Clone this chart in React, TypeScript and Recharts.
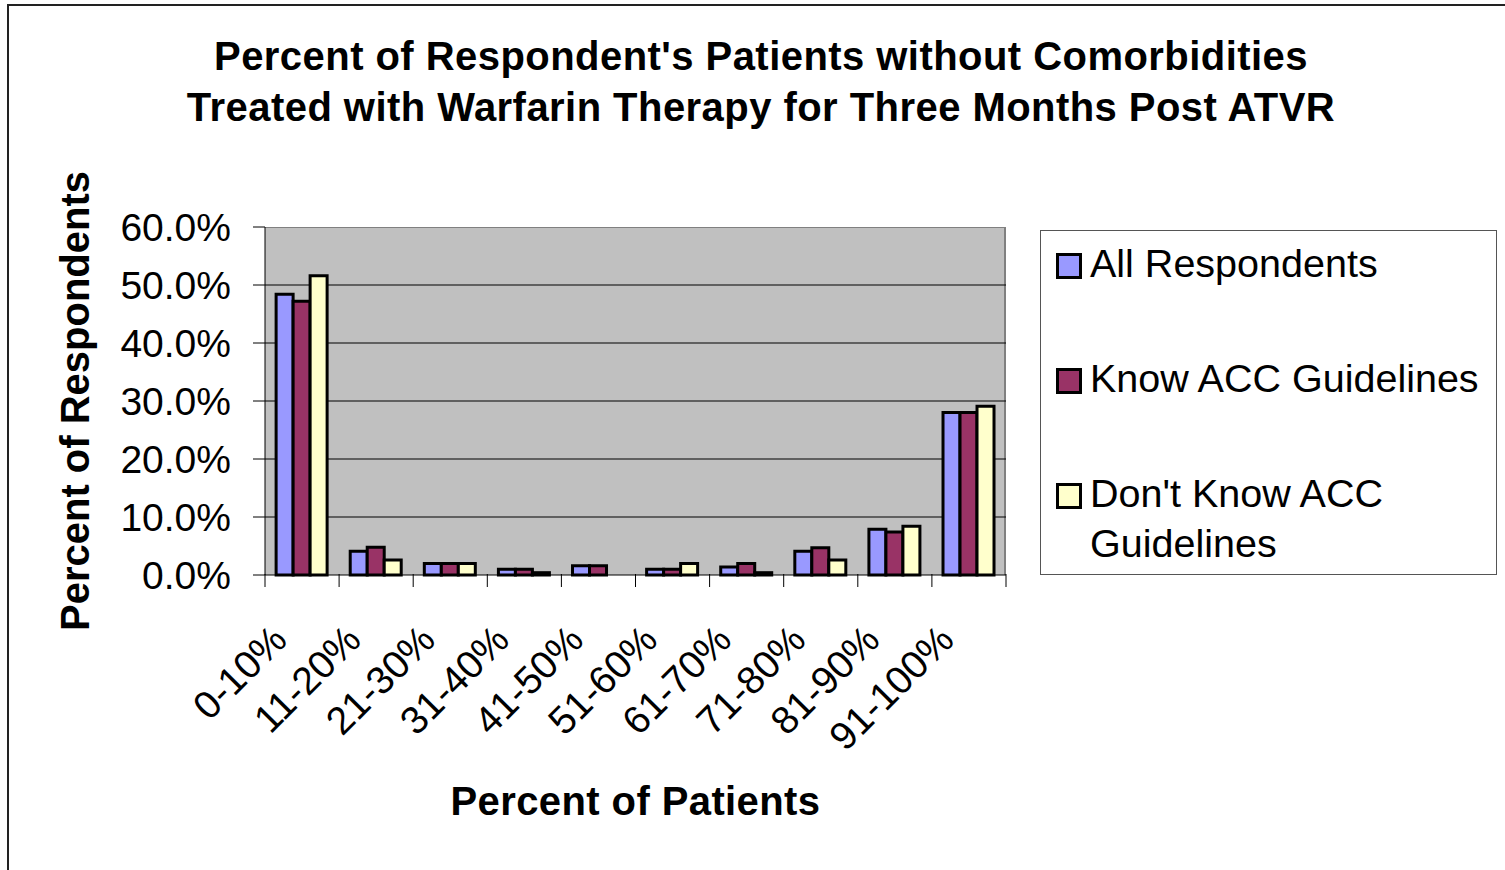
import { BarChart, Bar, XAxis, YAxis, CartesianGrid, Legend, Label } from "recharts"

const categories = ["0-10%", "11-20%", "21-30%", "31-40%", "41-50%", "51-60%", "61-70%", "71-80%", "81-90%", "91-100%"]
const allRespondents = [48.4, 4.1, 2.0, 1.0, 1.6, 1.0, 1.4, 4.1, 7.9, 28.0]
const knowGuidelines = [47.2, 4.8, 2.0, 1.0, 1.6, 1.0, 2.0, 4.7, 7.4, 28.0]
const dontKnowGuidelines = [51.6, 2.6, 2.0, 0.4, 0, 2.0, 0.4, 2.6, 8.4, 29.1]

const seriesNames = ["All Respondents", "Know ACC Guidelines", "Don't Know ACC Guidelines"]
const seriesColors = ["#9999ff", "#993366", "#ffffcc"]

const yTicks = [0, 10, 20, 30, 40, 50, 60]
const gridValues = [10, 20, 30, 40, 50]

const titleLines = [
  "Percent of Respondent's Patients without Comorbidities",
  "Treated with Warfarin Therapy for Three Months Post ATVR",
]

const FONT = "'Liberation Sans', Arial, sans-serif"

const data = categories.map((name, i) => ({
  name,
  all: allRespondents[i],
  know: knowGuidelines[i],
  dontKnow: dontKnowGuidelines[i],
}))

// Excel style: tick marks between categories, rotated label ending near the category centre
function CategoryTick({ x, y, payload, index }: any) {
  const half = payload?.offset ?? 0
  const tx = x - 13
  const ty = 642
  return (
    <g>
      <line x1={x - half} y1={y - 1} x2={x - half} y2={y + 12} stroke="#000" />
      {index === categories.length - 1 && (
        <line x1={x + half} y1={y - 1} x2={x + half} y2={y + 12} stroke="#000" />
      )}
      <text
        x={tx}
        y={ty}
        transform={`rotate(-45, ${tx}, ${ty})`}
        textAnchor="end"
        fontSize={39}
        fontFamily={FONT}
        fill="#000"
      >
        {payload.value}
      </text>
    </g>
  )
}

function LegendBox({ payload }: any) {
  const tops = [7, 122, 237]
  const items = [...(payload || [])].sort(
    (a: any, b: any) => seriesNames.indexOf(a.value) - seriesNames.indexOf(b.value)
  )
  return (
    <div
      style={{
        position: "relative",
        width: 457,
        height: 345,
        boxSizing: "border-box",
        border: "1px solid #555",
        background: "#fff",
        fontFamily: FONT,
        fontSize: 39.5,
        lineHeight: "50px",
        color: "#000",
      }}
    >
      {items.map((entry: any, i: number) => (
        <div key={entry.value} style={{ position: "absolute", left: 0, top: tops[i], width: 455 }}>
          <div
            style={{
              position: "absolute",
              left: 15,
              top: 15,
              width: 26,
              height: 26,
              boxSizing: "border-box",
              border: "3px solid #000",
              background: entry.color,
            }}
          />
          <div style={{ position: "absolute", left: 49, top: 0, width: 405, whiteSpace: "normal" }}>
            {entry.value}
          </div>
        </div>
      ))}
    </div>
  )
}

export default function App() {
  return (
    <div style={{ fontFamily: FONT }}>
      <div
        style={{
          position: "absolute",
          left: 7,
          top: 4,
          width: 1500,
          height: 870,
          borderLeft: "2px solid #222",
          borderTop: "2px solid #222",
        }}
      />
      <div
        style={{
          position: "absolute",
          left: 0,
          top: 31,
          width: 1522,
          textAlign: "center",
          fontWeight: "bold",
          fontSize: 40,
          lineHeight: "51px",
          letterSpacing: 0.45,
          color: "#000",
        }}
      >
        {titleLines.map((t) => (
          <div key={t}>{t}</div>
        ))}
      </div>
      <div
        style={{
          position: "absolute",
          left: 265,
          top: 227,
          width: 741,
          height: 348,
          boxSizing: "border-box",
          background: "#c0c0c0",
          borderTop: "1px solid #808080",
          borderRight: "2px solid #808080",
        }}
      />
      <div style={{ position: "absolute", left: 0, top: 0 }}>
        <BarChart
          width={1505}
          height={870}
          data={data}
          margin={{ top: 227, right: 499, bottom: 294, left: 55 }}
          barCategoryGap="15%"
          barGap={0}
        >
          <CartesianGrid vertical={false} stroke="#000" horizontalValues={gridValues} fill="none" />
          <XAxis
            dataKey="name"
            height={1}
            tickLine={false}
            tickSize={0}
            tickMargin={0}
            interval={0}
            axisLine={{ stroke: "#000" }}
            tick={<CategoryTick />}
          >
            <Label
              content={({ viewBox }: any) => (
                <text
                  x={viewBox.x + viewBox.width / 2}
                  y={815}
                  textAnchor="middle"
                  fontSize={40}
                  fontWeight="bold"
                  fontFamily={FONT}
                  letterSpacing={0.4}
                  fill="#000"
                >
                  Percent of Patients
                </text>
              )}
            />
          </XAxis>
          <YAxis
            width={210}
            domain={[0, 60]}
            ticks={yTicks}
            interval={0}
            tickSize={12}
            tickMargin={22}
            axisLine={{ stroke: "#000" }}
            tickLine={{ stroke: "#000" }}
            tickFormatter={(v: number) => `${v.toFixed(1)}%`}
            tick={{ fontSize: 39, fill: "#000", fontFamily: FONT }}
          >
            <Label
              content={({ viewBox }: any) => {
                const cx = viewBox.x + 20
                const cy = viewBox.y + viewBox.height / 2
                return (
                  <text
                    x={cx}
                    y={cy}
                    transform={`rotate(-90, ${cx}, ${cy})`}
                    textAnchor="middle"
                    dominantBaseline="central"
                    fontSize={40}
                    fontWeight="bold"
                    fontFamily={FONT}
                    fill="#000"
                  >
                    Percent of Respondents
                  </text>
                )
              }}
            />
          </YAxis>
          <Legend
            layout="vertical"
            align="center"
            verticalAlign="middle"
            itemSorter={null}
            wrapperStyle={{ position: "absolute", left: 1040, top: 230, width: 457, height: 345 }}
            content={<LegendBox />}
          />
          <Bar dataKey="all" name={seriesNames[0]} fill={seriesColors[0]} stroke="#000" strokeWidth={3} isAnimationActive={false} />
          <Bar dataKey="know" name={seriesNames[1]} fill={seriesColors[1]} stroke="#000" strokeWidth={3} isAnimationActive={false} />
          <Bar dataKey="dontKnow" name={seriesNames[2]} fill={seriesColors[2]} stroke="#000" strokeWidth={3} isAnimationActive={false} />
        </BarChart>
      </div>
    </div>
  )
}
